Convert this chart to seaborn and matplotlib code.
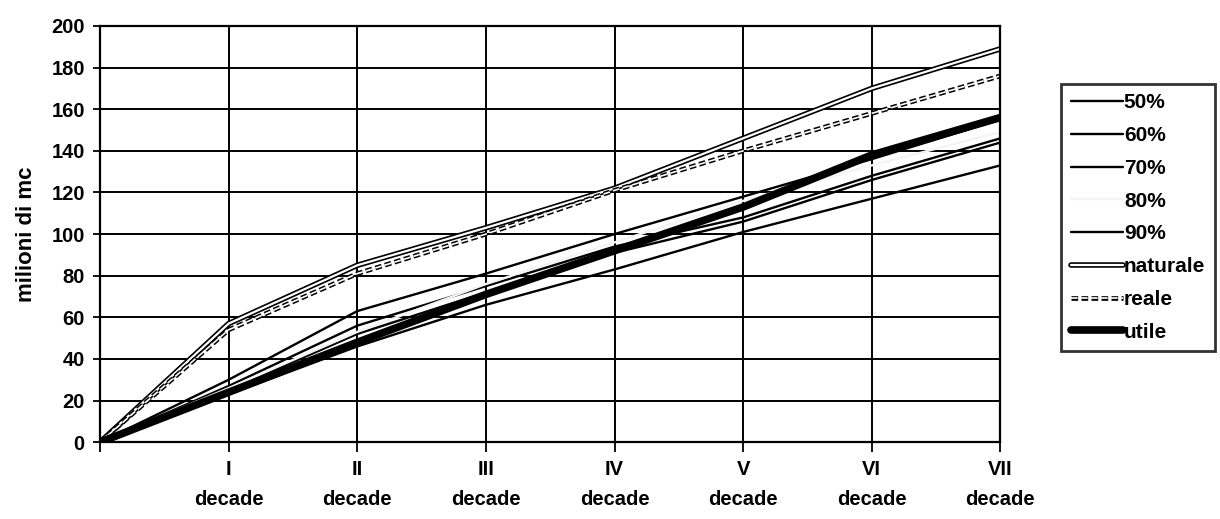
import matplotlib
matplotlib.use("Agg")
import matplotlib.pyplot as plt
import matplotlib.patheffects as pe
import seaborn as sns

# Cumulative volumes (milioni di mc) at the start and at the end of each decade
positions = [0, 1, 2, 3, 4, 5, 6, 7]
decade_labels = ["", "I\ndecade", "II\ndecade", "III\ndecade", "IV\ndecade",
                 "V\ndecade", "VI\ndecade", "VII\ndecade"]

p50 = [0, 30, 63, 81, 100, 118, 136, 155]
p60 = [0, 27, 56, 75, 94, 108, 128, 146]
p70 = [0, 25, 52, 72, 91, 106, 126, 144]
p80 = [0, 26, 53, 76, 96, 116, 133, 149]
p90 = [0, 23, 46, 66, 83, 101, 117, 133]
naturale = [0, 57, 85, 103, 122, 146, 170, 189]
reale = [0, 54, 81, 100, 121, 140, 158, 176]
utile = [0, 24, 48, 71, 92, 113, 138, 156]

y_ticks = [0, 20, 40, 60, 80, 100, 120, 140, 160, 180, 200]

sns.set_theme(style="white")
ink = "black"
plt.rcParams["font.family"] = ["Liberation Sans", "DejaVu Sans"]
plt.rcParams["font.weight"] = "bold"
plt.rcParams["text.color"] = ink
plt.rcParams["axes.labelcolor"] = ink
plt.rcParams["xtick.color"] = ink
plt.rcParams["ytick.color"] = ink

fig = plt.figure(figsize=(12.2, 5.19), dpi=100)
ax = fig.add_axes([0.082, 0.148, 0.738, 0.802])

hollow = [pe.Stroke(linewidth=4.0, foreground=ink), pe.Normal()]
hollow_dashed = [pe.Stroke(linewidth=3.4, foreground=ink), pe.Normal()]

series = [
    ("50%", p50, dict(color=ink, lw=1.7)),
    ("60%", p60, dict(color=ink, lw=1.7)),
    ("70%", p70, dict(color=ink, lw=1.7)),
    ("80%", p80, dict(color="#f4f4f4", lw=1.7)),
    ("90%", p90, dict(color=ink, lw=1.7)),
    ("naturale", naturale, dict(color="white", lw=1.6, path_effects=hollow)),
    ("reale", reale, dict(color="white", lw=1.2, ls=(0, (4, 2)),
                          path_effects=hollow_dashed)),
    ("utile", utile, dict(color=ink, lw=5.5, solid_capstyle="round")),
]

for name, values, style in series:
    sns.lineplot(x=positions, y=values, ax=ax, label=name, **style)

ax.set_xlim(0, 7)
ax.set_ylim(0, 200)
ax.set_yticks(y_ticks)
ax.set_xticks(positions)
ax.set_xticklabels(decade_labels, fontsize=14.5, fontweight="bold",
                   linespacing=1.7)
ax.tick_params(axis="y", labelsize=14.5, length=5, width=1.3, pad=6,
               direction="out", left=True)
ax.tick_params(axis="x", length=7, width=1.3, pad=6, direction="out",
               bottom=True)
for lbl in ax.get_yticklabels():
    lbl.set_fontweight("bold")

ax.grid(True, color=ink, lw=1.4)
ax.set_axisbelow(True)
for side in ax.spines.values():
    side.set_color(ink)
    side.set_linewidth(1.6)

ax.set_xlabel("")
ax.set_ylabel("milioni di mc", fontsize=16, fontweight="bold", labelpad=10)

leg = ax.legend(loc="upper left", bbox_to_anchor=(0.870, 0.838),
                bbox_transform=fig.transFigure, frameon=True, fancybox=False,
                prop={"weight": "bold", "size": 15}, handlelength=2.5,
                handletextpad=0.05, labelspacing=0.66, borderpad=0.45,
                borderaxespad=0)
leg.get_frame().set_edgecolor(ink)
leg.get_frame().set_linewidth(2.0)

fig.savefig("out.png", dpi=100, facecolor="white")
